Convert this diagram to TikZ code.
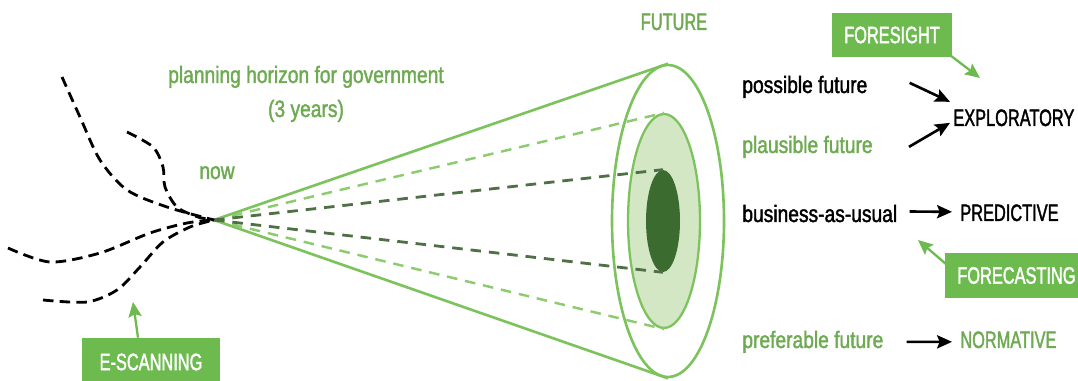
\documentclass[tikz,border=0pt]{standalone}
\usepackage{fontspec}
\setmainfont{Liberation Sans}[FakeStretch=0.81, FakeBold=1.6]
\newfontfamily\capsfont{Liberation Sans}[FakeStretch=0.69, FakeBold=1.6]
\usetikzlibrary{shapes.geometric, arrows.meta, calc}

\definecolor{textgreen}{HTML}{6EAA52}
\definecolor{boxgreen}{HTML}{6DBA4E}
\definecolor{conegreen}{HTML}{7CC35E}
\definecolor{lightfill}{HTML}{D3E7C5}
\definecolor{darkfill}{HTML}{3B6B2E}
\definecolor{darkdash}{HTML}{4F6F45}
\definecolor{lightdash}{HTML}{8CCB6E}

\tikzset{
  txt/.style={inner sep=0pt, anchor=base west, font=\fontsize{13.5}{16}\selectfont},
  captxt/.style={txt, font=\fontsize{13.5}{16}\selectfont\capsfont},
  tagbox/.style={fill=boxgreen, text=white, inner sep=0pt, font=\fontsize{13.5}{16}\selectfont\capsfont},
  arr/.style={line width=1.5pt, -{Stealth[length=8.5pt, width=7.5pt, inset=1.5pt]}},
  garr/.style={draw=boxgreen, fill=boxgreen, line width=1.3pt, -{Stealth[length=8.5pt, width=7.5pt, inset=1.5pt]}},
  scanline/.style={black, line width=1.6pt, dash pattern=on 6pt off 3.5pt},
  rim/.style={ellipse, inner sep=0pt, draw=conegreen, line width=1.5pt}
}

\begin{document}
\begin{tikzpicture}[x=0.02cm, y=-0.02cm]
        \useasboundingbox (0,0) rectangle (1078,381);

        \coordinate (now) at (214,220);

        \node[rim, minimum width=2.24cm, minimum height=6.24cm] (outer) at (668,221) {};
        \node[rim, fill=lightfill, line width=1.3pt, minimum width=1.44cm, minimum height=4.28cm] (plaus) at (664,221) {};
        \node[ellipse, inner sep=0pt, fill=darkfill, minimum width=0.68cm, minimum height=2.04cm] (core) at (663,221) {};

        \draw[conegreen, line width=1.5pt, line join=round] (outer.north) -- (now) -- (outer.south);
        \draw[lightdash, line width=1.4pt, dash pattern=on 6pt off 4.5pt] (now) -- (plaus.north);
        \draw[lightdash, line width=1.4pt, dash pattern=on 6pt off 4.5pt] (now) -- (plaus.south);
        \draw[darkdash, line width=1.6pt, dash pattern=on 6pt off 4.5pt] (now) -- (core.north);
        \draw[darkdash, line width=1.6pt, dash pattern=on 6pt off 4.5pt] (now) -- (core.south);

        \draw[scanline] plot[smooth] coordinates {(62,77) (80,117) (100,160) (127,190) (167,207) (now)};
        \draw[scanline] plot[smooth] coordinates {(127,132) (153,147) (163,167) (165,187) (177,207) (198,217) (now)};
        \draw[scanline] plot[smooth] coordinates {(8,248) (50,262) (100,253) (150,233) (187,223) (now)};
        \draw[scanline] plot[smooth] coordinates {(43,300) (87,302) (117,290) (140,267) (163,242) (190,227) (now)};

        \node[captxt, anchor=base, textgreen] (future) at (674,30) {FUTURE};
        \node[txt, anchor=base, textgreen] (horizon) at (306,83) {planning horizon for government};
        \node[txt, anchor=base, textgreen] (years) at (306,117) {(3 years)};
        \node[txt, anchor=base, textgreen] (nowlbl) at (217,179) {now};

        \node[txt] (possible) at (742,93) {possible future};
        \node[txt, textgreen] (plausible) at (742,153) {plausible future};
        \node[txt] (business) at (742,222) {business-as-usual};
        \node[txt, textgreen] (preferable) at (742,348) {preferable future};

        \node[captxt] (exploratory) at (953,126) {EXPLORATORY};
        \node[captxt] (predictive) at (960,221) {PREDICTIVE};
        \node[captxt, textgreen] (normative) at (960,348) {NORMATIVE};

        \node[tagbox, minimum width=2.4cm, minimum height=0.88cm] (foresight) at (892,35) {FORESIGHT};
        \node[tagbox, anchor=west, inner xsep=0.24cm, minimum height=0.9cm] (forecasting) at (945,275.5) {FORECASTING};
        \node[tagbox, minimum width=2.76cm, minimum height=0.96cm] (escanning) at (151,362) {E-SCANNING};

        \coordinate (foretip) at (980,78);
        \coordinate (casttip) at (918,240);
        \coordinate (scantip) at (133,302);

        \draw[arr] ($(possible.east)+(42,-4)$) -- ($(exploratory.west)+(-3,-16)$);
        \draw[arr] ($(plausible.east)+(36,0)$) -- ($(exploratory.west)+(-3,5)$);
        \draw[arr] ($(business.east)+(12,-2)$) -- ($(predictive.west)+(-8,-1)$);
        \draw[arr] ($(preferable.east)+(23,0)$) -- ($(normative.west)+(-8,2)$);

        \draw[garr] ($(foresight.south east)+(-2,-2)$) -- (foretip);
        \draw[garr] ($(forecasting.west)+(5,-8)$) -- (casttip);
        \draw[garr] ($(escanning.north)+(-13,0)$) -- (scantip);
      \end{tikzpicture}
\end{document}
